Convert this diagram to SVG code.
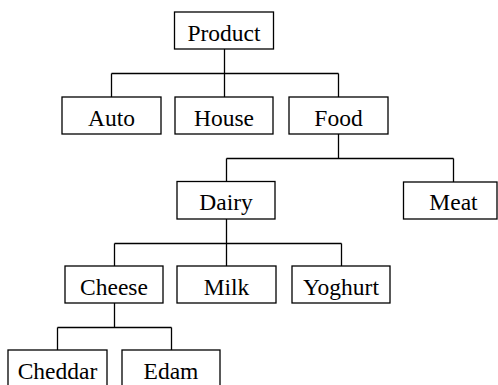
<svg xmlns="http://www.w3.org/2000/svg" width="498" height="385" viewBox="0 0 498 385">
<style>
rect{fill:#fff;stroke:#000;stroke-width:1.3}
text{font-family:"Liberation Serif","Times New Roman",serif;font-size:23.5px;fill:#000;text-anchor:middle}
#connectors path{fill:none;stroke:#000;stroke-width:1.3}
</style>
<rect x="0" y="0" width="498" height="385" style="stroke:none"/>
<g id="connectors">
<path d="M224.5 49V73.5M111.5 73.5H338.5M111.5 73.5V97M224.5 73.5V97M338.5 73.5V97"/>
<path d="M338.5 134V158.5M226.5 158.5H453.5M226.5 158.5V181M453.5 158.5V182"/>
<path d="M226.5 219V243.5M114.5 243.5H341.5M114.5 243.5V266M226.5 243.5V266M341.5 243.5V266"/>
<path d="M114.5 303V327.5M57.5 327.5H171.5M57.5 327.5V350M171.5 327.5V350"/>
</g>
<g id="product"><rect x="174.5" y="12" width="99" height="37"/><text x="224" y="40.5">Product</text></g>
<g id="auto"><rect x="62" y="97" width="99" height="37"/><text x="111.5" y="125.5">Auto</text></g>
<g id="house"><rect x="175" y="97" width="98" height="37"/><text x="224" y="125.5">House</text></g>
<g id="food"><rect x="289" y="97" width="99" height="37"/><text x="338.5" y="125.5">Food</text></g>
<g id="dairy"><rect x="177" y="181.5" width="98" height="37.5"/><text x="226" y="210">Dairy</text></g>
<g id="meat"><rect x="403.5" y="182" width="93.5" height="37"/><text x="453.5" y="210">Meat</text></g>
<g id="cheese"><rect x="65" y="266" width="98" height="37"/><text x="114" y="294.5">Cheese</text></g>
<g id="milk"><rect x="177" y="266" width="99" height="37"/><text x="226.5" y="294.5">Milk</text></g>
<g id="yoghurt"><rect x="292" y="266" width="98" height="37"/><text x="341" y="294.5">Yoghurt</text></g>
<g id="cheddar"><rect x="8" y="350" width="99" height="37"/><text x="57.5" y="378.5">Cheddar</text></g>
<g id="edam"><rect x="122" y="350" width="98" height="37"/><text x="171" y="378.5">Edam</text></g>
</svg>
